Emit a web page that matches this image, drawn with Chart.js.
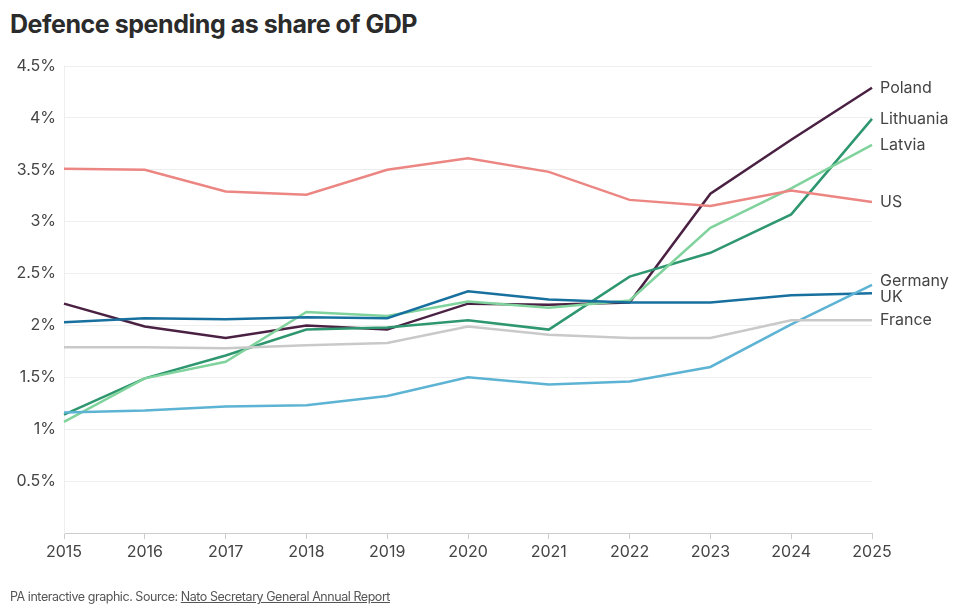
<!DOCTYPE html>
<html>
<head>
<meta charset="utf-8">
<script src="https://cdn.jsdelivr.net/npm/chart.js@4"></script>
<style>
  html, body { margin: 0; padding: 0; background: #fff; }
  body { width: 960px; height: 611px; position: relative; overflow: hidden; font-family: Inter, "Noto Sans", sans-serif; }
  h1 { position: absolute; left: 10px; top: 9px; margin: 0; font-size: 25px; font-weight: 700; color: #2b2b2b; letter-spacing: -0.45px; }
  #chart-wrap { position: absolute; left: 0; top: 0; width: 960px; height: 611px; }
  .source { position: absolute; left: 10px; top: 589px; font-size: 12.5px; color: #555; letter-spacing: -0.45px; }
  .source a { color: #555; text-decoration: underline; }
</style>
</head>
<body>
<h1>Defence spending as share of GDP</h1>
<div id="chart-wrap"><canvas id="chart" width="960" height="611"></canvas></div>
<div class="source">PA interactive graphic. Source: <a href="#">Nato Secretary General Annual Report</a></div>

<script>
const years = ['2015', '2016', '2017', '2018', '2019', '2020', '2021', '2022', '2023', '2024', '2025'];
const yTicks = [0.5, 1, 1.5, 2, 2.5, 3, 3.5, 4, 4.5];

const poland    = [2.21, 1.99, 1.88, 2.00, 1.96, 2.21, 2.20, 2.22, 3.27, 3.79, 4.29];
const lithuania = [1.14, 1.49, 1.71, 1.96, 1.98, 2.05, 1.96, 2.47, 2.70, 3.07, 3.99];
const latvia    = [1.07, 1.49, 1.65, 2.13, 2.09, 2.23, 2.17, 2.24, 2.94, 3.32, 3.74];
const us        = [3.51, 3.50, 3.29, 3.26, 3.50, 3.61, 3.48, 3.21, 3.15, 3.30, 3.19];
const germany   = [1.16, 1.18, 1.22, 1.23, 1.32, 1.50, 1.43, 1.46, 1.60, 2.01, 2.39];
const uk        = [2.03, 2.07, 2.06, 2.08, 2.07, 2.33, 2.25, 2.22, 2.22, 2.29, 2.31];
const france    = [1.79, 1.79, 1.78, 1.81, 1.83, 1.99, 1.91, 1.88, 1.88, 2.05, 2.05];

const series = [
  { label: 'France',    data: france,    color: '#c9c9c9' },
  { label: 'Germany',   data: germany,   color: '#5db3d3' },
  { label: 'US',        data: us,        color: '#ec8683' },
  { label: 'UK',        data: uk,        color: '#18709f' },
  { label: 'Latvia',    data: latvia,    color: '#80d39c' },
  { label: 'Lithuania', data: lithuania, color: '#2f9770' },
  { label: 'Poland',    data: poland,    color: '#4a2143' }
];

const fontFamily = 'Inter, "Noto Sans", sans-serif';

// end-of-line labels, nudged apart when they collide
const endLabels = {
  id: 'endLabels',
  afterDatasetsDraw(chart) {
    const ctx = chart.ctx;
    const items = chart.data.datasets.map((ds, i) => {
      const meta = chart.getDatasetMeta(i);
      const pt = meta.data[meta.data.length - 1];
      return { text: ds.label, y: pt.y };
    }).sort((a, b) => a.y - b.y);

    const gap = 16;
    for (let pass = 0; pass < 5; pass++) {
      for (let i = 1; i < items.length; i++) {
        const d = items[i].y - items[i - 1].y;
        if (d < gap) {
          const shift = (gap - d) / 2;
          items[i - 1].y -= shift;
          items[i].y += shift;
        }
      }
    }

    ctx.save();
    ctx.font = '16px ' + fontFamily;
    ctx.fillStyle = '#444';
    ctx.textBaseline = 'middle';
    ctx.textAlign = 'left';
    items.forEach(it => ctx.fillText(it.text, chart.chartArea.right + 8, it.y));
    ctx.restore();
  }
};

new Chart(document.getElementById('chart'), {
  type: 'line',
  data: {
    labels: years,
    datasets: series.map(s => ({
      label: s.label,
      data: s.data,
      borderColor: s.color,
      backgroundColor: s.color,
      borderWidth: 2.5,
      pointRadius: 0,
      tension: 0
    }))
  },
  options: {
    responsive: false,
    animation: false,
    layout: { padding: { top: 66, right: 88, bottom: 38, left: 0 } },
    plugins: {
      legend: { display: false },
      tooltip: { enabled: false }
    },
    scales: {
      x: {
        offset: false,
        grid: { drawOnChartArea: false, drawTicks: true, tickLength: 6, color: '#cccccc' },
        border: { color: '#cccccc', width: 1 },
        ticks: { color: '#444', font: { family: fontFamily, size: 16 }, padding: 4, maxRotation: 0 },
        afterFit(scale) { scale.height = 40; }
      },
      y: {
        min: 0,
        max: 4.5,
        afterBuildTicks(scale) {
          scale.ticks = [0].concat(yTicks).map(v => ({ value: v }));
        },
        grid: { color: '#eeeeee', drawTicks: false },
        border: { display: true, color: '#eeeeee' },
        ticks: {
          color: '#444',
          font: { family: fontFamily, size: 16 },
          padding: 8,
          callback: v => (v === 0 ? '' : v + '%')
        },
        afterFit(scale) { scale.width = 64; }
      }
    }
  },
  plugins: [endLabels]
});
</script>
</body>
</html>
